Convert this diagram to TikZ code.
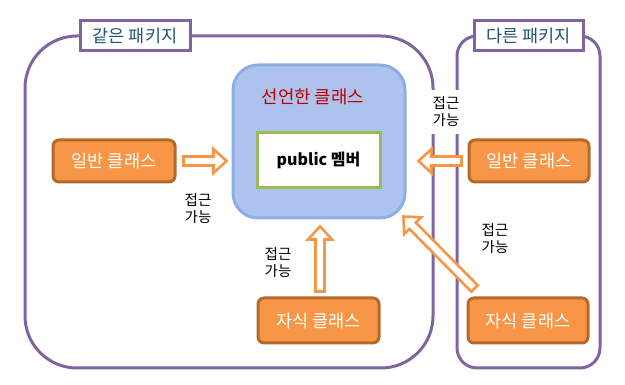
\documentclass[tikz,border=0pt]{standalone}
\usepackage{fontspec}
\setmainfont{Noto Sans CJK KR}
\usetikzlibrary{calc}
\definecolor{pkgpurple}{HTML}{8064A2}
\definecolor{pkgtext}{HTML}{23566A}
\definecolor{orfill}{HTML}{F79646}
\definecolor{ordraw}{HTML}{B56A2C}
\definecolor{bluefill}{HTML}{ADC2EC}
\definecolor{bluedraw}{HTML}{8EADE6}
\definecolor{greendraw}{HTML}{9BBB59}
\definecolor{declred}{HTML}{C00000}
\newcommand\hollowarrow[2]{%
  \draw[hollowarrowstyle] ($(#1)!4.5pt!90:(#2)$)
    -- ($(#2)!13pt!(#1)!4.5pt!-90:(#1)$)
    -- ($(#2)!13pt!(#1)!12pt!-90:(#1)$)
    -- (#2)
    -- ($(#2)!13pt!(#1)!12pt!90:(#1)$)
    -- ($(#2)!13pt!(#1)!4.5pt!90:(#1)$)
    -- ($(#1)!4.5pt!-90:(#2)$) -- cycle;}
\tikzset{
  pkgbox/.style={draw=pkgpurple, line width=3pt},
  pkglabel/.style={draw=pkgpurple, line width=3pt, fill=white, text=pkgtext,
    minimum height=30, inner sep=0pt, font=\fontsize{17.5}{20}\selectfont},
  classbox/.style={draw=ordraw, fill=orfill, line width=3pt, rounded corners=6,
    text=white, inner sep=0pt, font=\fontsize{17.5}{20}\selectfont},
  hollowarrowstyle/.style={draw=orfill, fill=white, line width=2.6pt, line join=miter},
  acclabel/.style={align=center, inner sep=0pt, font=\fontsize{14.5}{17}\selectfont},
}
\begin{document}
\begin{tikzpicture}[x=1pt,y=-1pt]
\useasboundingbox (0,0) rectangle (625,385);
% packages
\draw[pkgbox, rounded corners=52] (25,36) rectangle (433,368);
\draw[pkgbox, rounded corners=20] (457,36) rectangle (600,368);
\node[pkglabel, minimum width=110] (samepkg) at (135,36) {같은 패키지};
\node[pkglabel, minimum width=109] (otherpkg) at (528.5,36) {다른 패키지};
% declared class
\node[draw=bluedraw, fill=bluefill, line width=3pt, rounded corners=25,
  minimum width=172, minimum height=153, inner sep=0pt] (decl) at (319,141.5) {};
\node[text=declred, font=\fontsize{17.8}{20}\selectfont, inner sep=0pt] (decltitle) at (313,97) {선언한 클래스};
\node[draw=greendraw, fill=white, line width=3pt, minimum width=123, minimum height=55,
  inner sep=0pt, font=\bfseries\fontsize{16}{19}\selectfont] (member) at (318.5,160.5) {public 멤버};
% classes
\node[classbox, minimum width=122, minimum height=42] (gen1) at (114,161) {일반 클래스};
\node[classbox, minimum width=120, minimum height=42] (gen2) at (529,161) {일반 클래스};
\node[classbox, minimum width=121, minimum height=45] (child1) at (318.5,320.5) {자식 클래스};
\node[classbox, minimum width=120, minimum height=45] (child2) at (528,320.5) {자식 클래스};
% arrow endpoints
\coordinate (a1s) at ($(gen1.east)+(7,0)$);
\coordinate (a1e) at ($(decl.west |- gen1.east)+(-5,0)$);
\coordinate (a2s) at ($(gen2.west)+(-6,0)$);
\coordinate (a2e) at ($(decl.east |- gen2.west)+(12,0)$);
\coordinate (a3s) at ($(child1.north)+(1.5,-5)$);
\coordinate (a3e) at ($(a3s |- decl.south)+(0,7)$);
\coordinate (a4s) at ($(child2.north west)+(8,-8)$);
\coordinate (a4e) at ($(decl.south east)+(-3,-3)$);
\hollowarrow{a1s}{a1e}
\hollowarrow{a2s}{a2e}
\hollowarrow{a3s}{a3e}
\hollowarrow{a4s}{a4e}
% labels
\node[acclabel] (acc1) at (198,209) {접근\\가능};
\node[acclabel] (acc2) at (278,263) {접근\\가능};
\node[acclabel] (acc3) at (495,239) {접근\\가능};
\node[acclabel, fill=white, inner xsep=2pt, inner ysep=7pt] (acc4) at (446,112) {접근\\가능};
\end{tikzpicture}
\end{document}
